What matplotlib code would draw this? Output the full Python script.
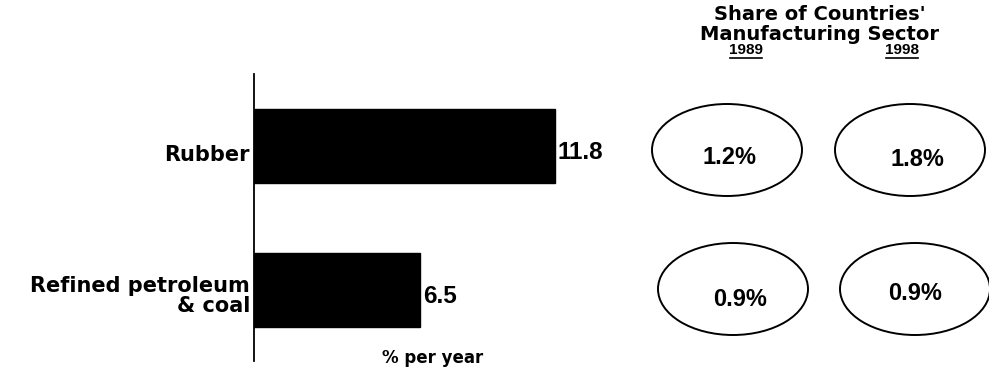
import matplotlib
matplotlib.use("Agg")
import matplotlib.pyplot as plt
from matplotlib.patches import Ellipse

plt.rcParams["font.family"] = ["Liberation Sans", "DejaVu Sans"]
plt.rcParams["font.weight"] = "bold"
WIDE = ["DejaVu Sans"]

# Growth of output by industry (% per year)
categories = ["Refined petroleum\n& coal", "Rubber"]
growth = [6.5, 11.8]

# Share of the countries' manufacturing sector
share_years = ["1989", "1998"]
share_1989 = [0.9, 1.2]
share_1998 = [0.9, 1.8]

W, H = 989, 371
fig = plt.figure(figsize=(W / 100, H / 100), dpi=100)

# Bar panel: x = 0 sits at pixel 254, 25.5 px per percentage point
left_px, top_px, bottom_px = 254, 74, 361
px_per_unit = 25.5
xmax = 14.0
ax = fig.add_axes([left_px / W, (H - bottom_px) / H,
                   xmax * px_per_unit / W, (bottom_px - top_px) / H])
ypos = list(range(len(categories)))
ax.barh(ypos, growth, height=0.514, color="black", edgecolor="black")
ax.set_xlim(0, xmax)
ax.set_ylim(-0.493, 1.5)
for s in ("top", "right", "bottom"):
    ax.spines[s].set_visible(False)
ax.spines["left"].set_linewidth(1.3)
ax.set_xticks([])
ax.set_yticks([])

# category labels, right-aligned just left of the axis line
label_dy = [-0.045, -0.06]
for y, lab, dy in zip(ypos, categories, label_dy):
    ax.text(-0.16, y + dy, lab, ha="right", va="center", multialignment="right",
            fontsize=15, fontweight="bold", family=WIDE, linespacing=1.0)

# value labels at the end of each bar
for y, v in zip(ypos, growth):
    ax.text(v + 0.12, y - 0.042, f"{v:.1f}", va="center", ha="left",
            fontsize=17.5, fontweight="bold")
ax.text(7.0, -0.47, "% per year", ha="center", va="center",
        fontsize=12, fontweight="bold", family=WIDE)

# Overlay in pixel coordinates for the share ellipses
ov = fig.add_axes([0, 0, 1, 1], facecolor="none")
ov.set_xlim(0, W)
ov.set_ylim(H, 0)
ov.axis("off")

ov.text(820, 15, "Share of Countries'", ha="center", va="center",
        fontsize=14, fontweight="bold", family=WIDE)
ov.text(820, 34, "Manufacturing Sector", ha="center", va="center",
        fontsize=14, fontweight="bold", family=WIDE)
year_x = [746, 902]
for x, yr in zip(year_x, share_years):
    ov.text(x, 50, yr, ha="center", va="center", fontsize=11, fontweight="bold")
    ov.plot([x - 16, x + 16], [58, 58], color="black", lw=1.2)

row_y = {1: 150, 0: 289}
ell_x = [[733, 915], [727, 910]]
txt_pos = [[(740, 300), (915, 293)], [(730, 157), (917, 160)]]
for row, (v89, v98) in enumerate(zip(share_1989, share_1998)):
    for col, v in enumerate((v89, v98)):
        cx = ell_x[row][col]
        ov.add_patch(Ellipse((cx, row_y[row]), 150, 92, fill=False,
                             edgecolor="black", lw=1.4))
        tx, ty = txt_pos[row][col]
        ov.text(tx, ty, f"{v:.1f}%", ha="center", va="center",
                fontsize=17, fontweight="bold")

fig.savefig("out.png", dpi=100)
